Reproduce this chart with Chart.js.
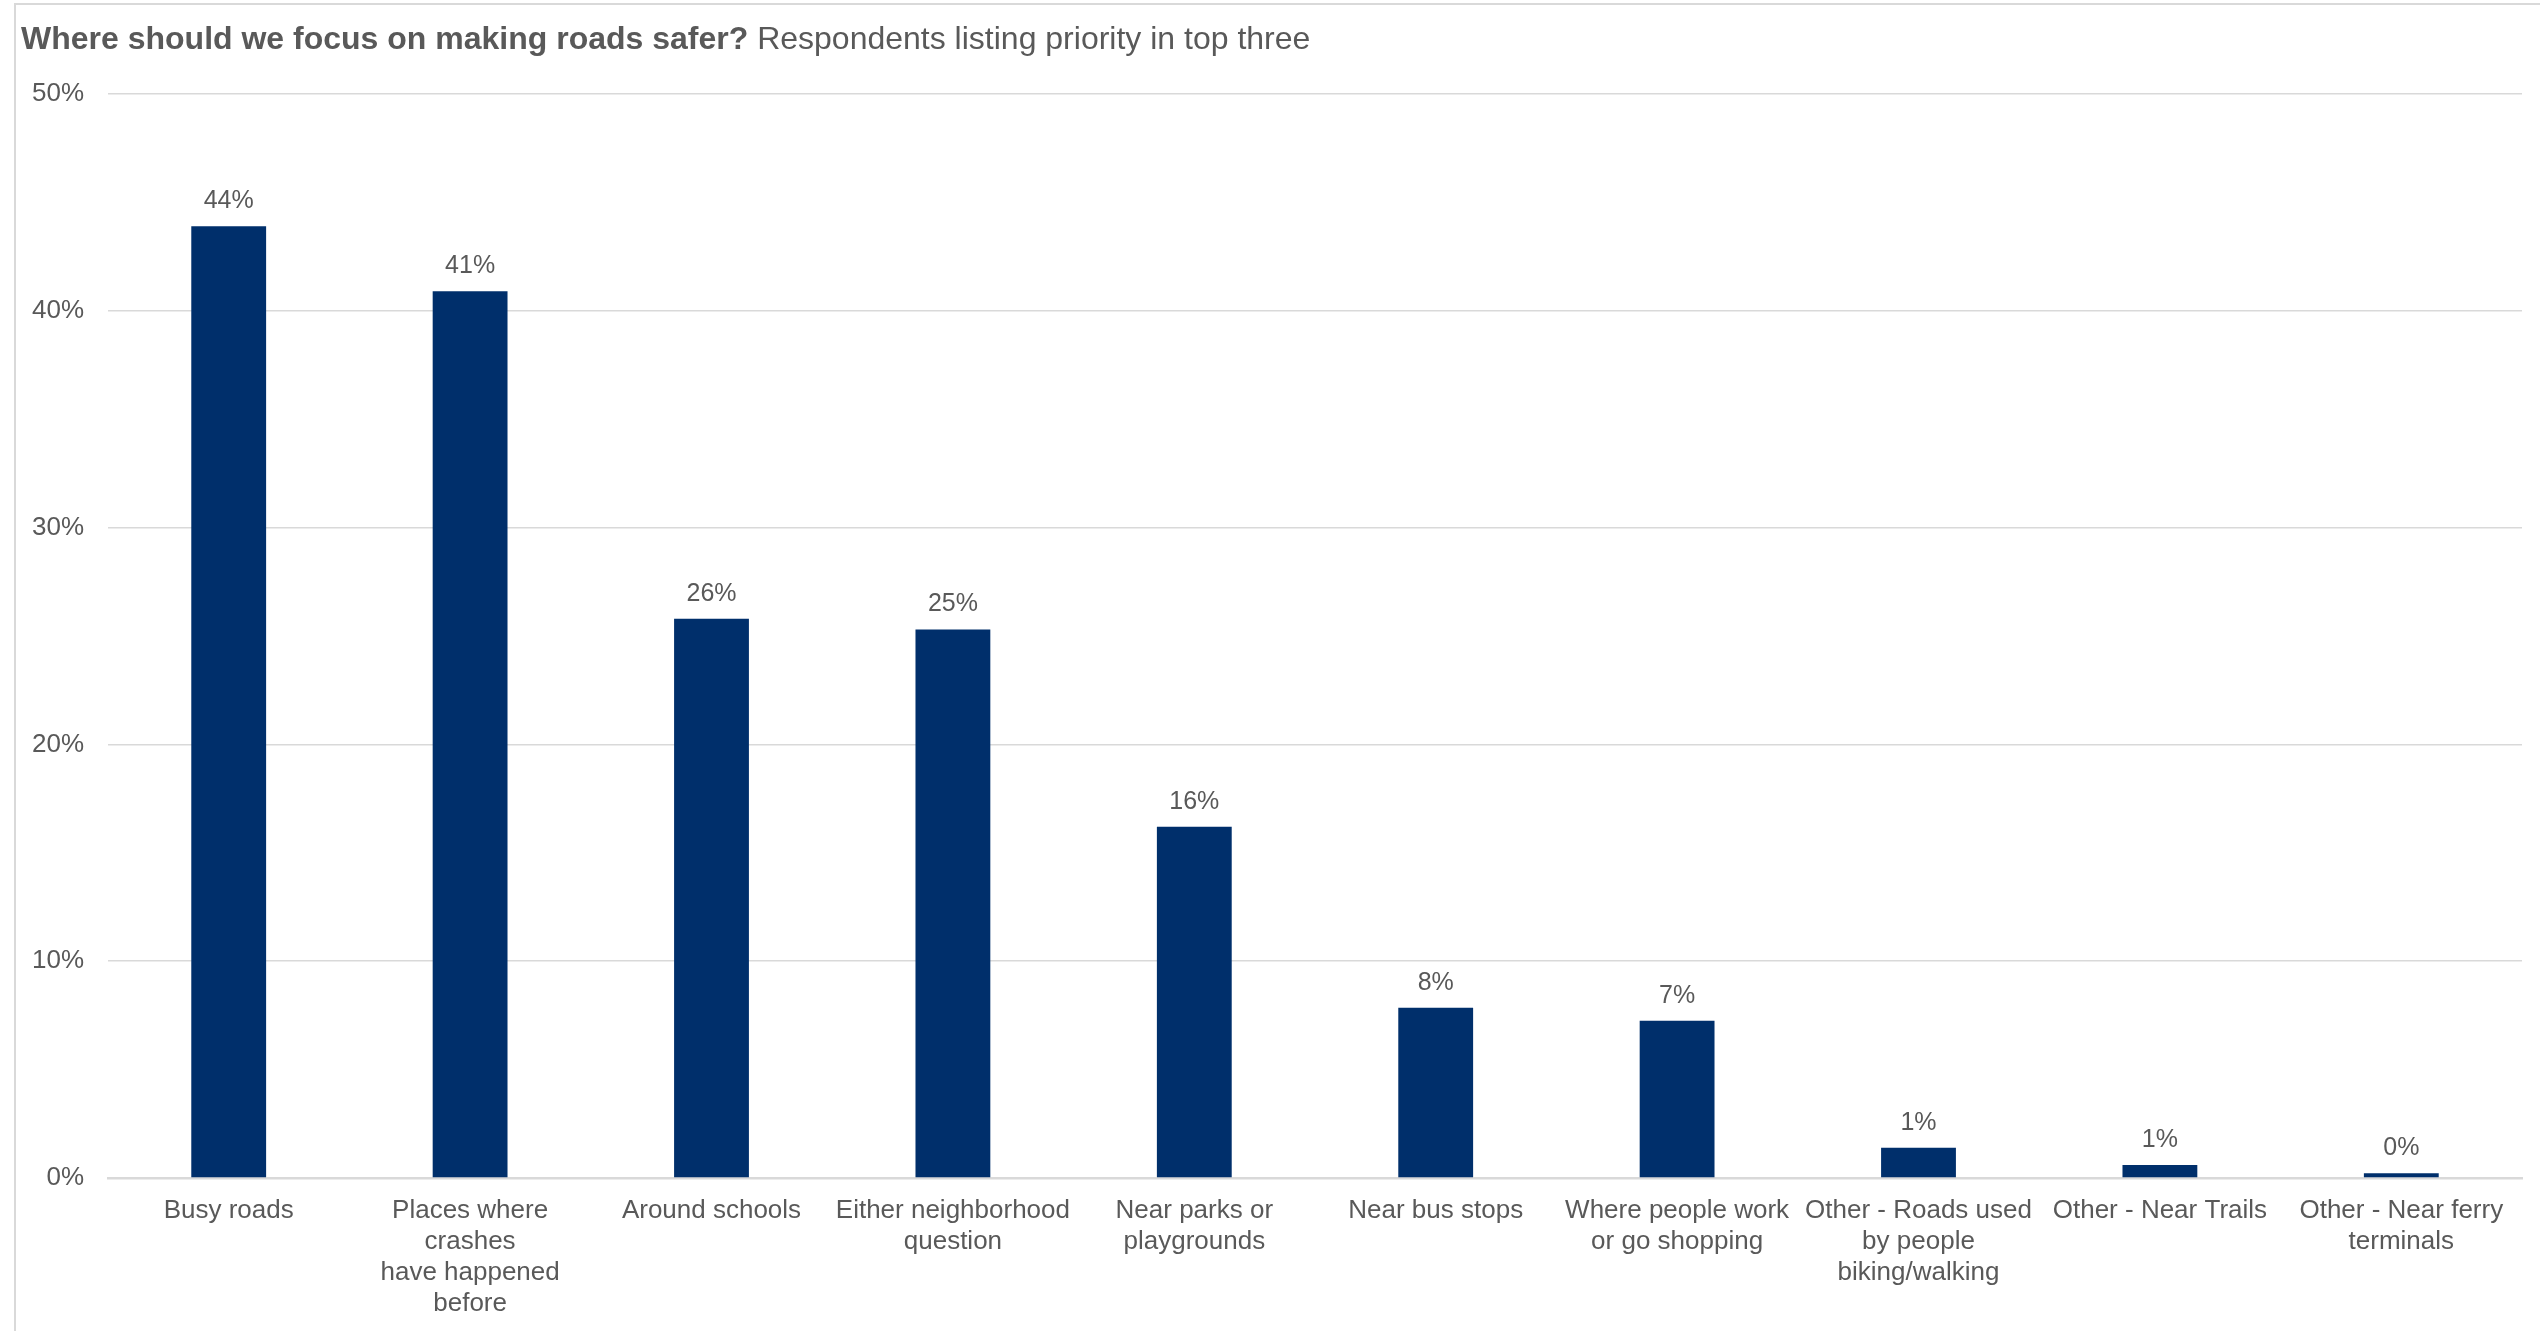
<!DOCTYPE html>
<html>
<head>
<meta charset="utf-8">
<script src="https://cdn.jsdelivr.net/npm/chart.js@4"></script>
<style>
  html, body { margin: 0; padding: 0; background: #fff; overflow: hidden; }
  #wrap { position: absolute; left: 0; top: 0; width: 2540px; height: 1331px; }
  #frame { position: absolute; left: 14px; top: 3px; width: 2600px; height: 1400px;
           border: 2px solid #d9d9d9; box-sizing: border-box; pointer-events: none; }
</style>
</head>
<body>
<div id="wrap">
  <canvas id="chart" width="2540" height="1331"></canvas>
  <div id="frame"></div>
</div>
<script>
/* Prioridades de seguridad vial — barras simples */

const TITLE_BOLD = 'Where should we focus on making roads safer?';
const TITLE_REST = ' Respondents listing priority in top three';

const categories = [
  'Busy roads',
  ['Places where', 'crashes', 'have happened', 'before'],
  'Around schools',
  ['Either neighborhood', 'question'],
  ['Near parks or', 'playgrounds'],
  'Near bus stops',
  ['Where people work', 'or go shopping'],
  ['Other - Roads used', 'by people', 'biking/walking'],
  'Other - Near Trails',
  ['Other - Near ferry', 'terminals'],
];

const values = [43.9, 40.9, 25.8, 25.3, 16.2, 7.85, 7.25, 1.4, 0.6, 0.22];

const TEXT_COLOR = '#595959';
const BAR_COLOR  = '#002F6B';
const GRID_COLOR = '#d9d9d9';
const FONT       = "'Liberation Sans', Arial, sans-serif";

// Título con parte en negrita
const titlePlugin = {
  id: 'mixedTitle',
  afterDraw(chart) {
    const c = chart.ctx;
    c.save();
    c.fillStyle = TEXT_COLOR;
    c.textBaseline = 'middle';
    c.font = 'bold 32px ' + FONT;
    c.fillText(TITLE_BOLD, 21, 40);
    const w = c.measureText(TITLE_BOLD).width;
    c.font = '32px ' + FONT;
    c.fillText(TITLE_REST, 21 + w, 40);
    c.restore();
  }
};

// Etiquetas de valor encima de cada barra
const valueLabels = {
  id: 'valueLabels',
  afterDatasetsDraw(chart) {
    const c = chart.ctx;
    const meta = chart.getDatasetMeta(0);
    c.save();
    c.fillStyle = TEXT_COLOR;
    c.font = '25px ' + FONT;
    c.textAlign = 'center';
    c.textBaseline = 'middle';
    meta.data.forEach((bar, i) => {
      c.fillText(Math.round(values[i]) + '%', bar.x, bar.y - 25);
    });
    c.restore();
  }
};

new Chart(document.getElementById('chart'), {
  type: 'bar',
  data: {
    labels: categories,
    datasets: [{
      data: values,
      backgroundColor: BAR_COLOR,
      borderWidth: 0,
      categoryPercentage: 1,
      barPercentage: 0.31,
    }]
  },
  options: {
    responsive: false,
    animation: false,
    layout: { padding: { top: 94, right: 18, left: 0, bottom: 0 } },
    plugins: {
      legend:  { display: false },
      tooltip: { enabled: false },
    },
    scales: {
      x: {
        grid:   { display: false, drawTicks: false },
        border: { color: GRID_COLOR, width: 2.5 },
        ticks: {
          color: TEXT_COLOR,
          font: { family: FONT, size: 26, lineHeight: 1.2 },
          padding: 17,
          maxRotation: 0,
          autoSkip: false,
        },
        afterFit(scale) { scale.height = 1331 - 1178; },
      },
      y: {
        min: 0,
        max: 50,
        grid:   { color: GRID_COLOR, lineWidth: 1.5, drawTicks: false },
        border: { display: false },
        ticks: {
          stepSize: 10,
          color: TEXT_COLOR,
          font: { family: FONT, size: 26 },
          padding: 24,
          callback: v => v + '%',
        },
        afterFit(scale) { scale.width = 108; },
      }
    }
  },
  plugins: [titlePlugin, valueLabels]
});
</script>
</body>
</html>
